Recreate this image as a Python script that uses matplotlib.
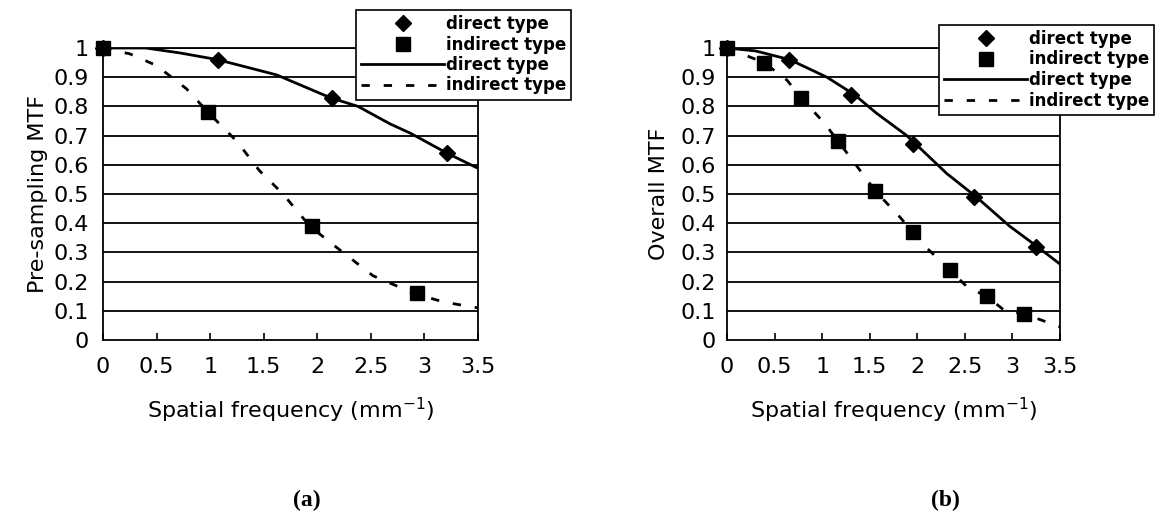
import matplotlib
matplotlib.use('Agg')
import matplotlib.pyplot as plt

# (a) pre-sampling MTF
a_freq_direct = [0, 1.07, 2.14, 3.21]
a_mtf_direct = [1.0, 0.96, 0.83, 0.64]
a_freq_indirect = [0, 0.98, 1.95, 2.93]
a_mtf_indirect = [1.0, 0.78, 0.39, 0.16]
a_fit_direct_x = [0, 0.4, 0.72, 1.07, 1.62, 2.12, 2.38, 2.68, 2.87, 3.21, 3.5]
a_fit_direct_y = [1.0, 1.0, 0.983, 0.96, 0.908, 0.83, 0.8, 0.74, 0.708, 0.64, 0.588]
a_fit_indirect_x = [0, 0.25, 0.5, 0.78, 0.98, 1.25, 1.46, 1.68, 1.93, 2.17, 2.52, 2.9, 3.18, 3.5]
a_fit_indirect_y = [1.0, 0.98, 0.94, 0.86, 0.78, 0.68, 0.58, 0.5, 0.39, 0.32, 0.22, 0.16, 0.13, 0.11]

# (b) overall MTF
b_freq_direct = [0, 0.65, 1.3, 1.95, 2.6, 3.25]
b_mtf_direct = [1.0, 0.96, 0.84, 0.67, 0.49, 0.32]
b_freq_indirect = [0, 0.39, 0.78, 1.17, 1.56, 1.95, 2.34, 2.73, 3.12]
b_mtf_indirect = [1.0, 0.95, 0.83, 0.68, 0.51, 0.37, 0.24, 0.15, 0.09]
b_fit_direct_x = [0, 0.3, 0.66, 1.05, 1.34, 1.57, 1.89, 2.31, 2.62, 2.97, 3.26, 3.5]
b_fit_direct_y = [1.0, 0.99, 0.96, 0.90, 0.84, 0.777, 0.70, 0.57, 0.49, 0.39, 0.32, 0.26]
b_fit_indirect_x = [0, 0.39, 0.63, 0.78, 1.03, 1.17, 1.32, 1.56, 1.82, 1.95, 2.10, 2.34, 2.53, 2.73, 2.92, 3.12, 3.5]
b_fit_indirect_y = [1.0, 0.95, 0.89, 0.83, 0.74, 0.68, 0.615, 0.51, 0.42, 0.37, 0.315, 0.24, 0.18, 0.15, 0.10, 0.09, 0.045]

x_ticks = [0, 0.5, 1, 1.5, 2, 2.5, 3, 3.5]
x_labels = ['0', '0.5', '1', '1.5', '2', '2.5', '3', '3.5']
y_ticks = [0, 0.1, 0.2, 0.3, 0.4, 0.5, 0.6, 0.7, 0.8, 0.9, 1]
y_labels = ['0', '0.1', '0.2', '0.3', '0.4', '0.5', '0.6', '0.7', '0.8', '0.9', '1']

plt.rcParams['font.family'] = ['DejaVu Sans']

W, H = 1172, 517
fig = plt.figure(figsize=(W / 100, H / 100), dpi=100)

panels = [
    dict(rect=[103, 48, 375, 292], ylabel='Pre-sampling MTF', ypad=10, ylpad=4,
         fd=a_freq_direct, md=a_mtf_direct, fi=a_freq_indirect, mi=a_mtf_indirect,
         cdx=a_fit_direct_x, cdy=a_fit_direct_y, cix=a_fit_indirect_x, ciy=a_fit_indirect_y,
         leg=(356, 10), caption='(a)', capx=307),
    dict(rect=[727, 48, 333, 292], ylabel='Overall MTF', ypad=8, ylpad=8,
         fd=b_freq_direct, md=b_mtf_direct, fi=b_freq_indirect, mi=b_mtf_indirect,
         cdx=b_fit_direct_x, cdy=b_fit_direct_y, cix=b_fit_indirect_x, ciy=b_fit_indirect_y,
         leg=(939, 25), caption='(b)', capx=945),
]

for p in panels:
    x0, y0, w, h = p['rect']
    ax = fig.add_axes([x0 / W, 1 - (y0 + h) / H, w / W, h / H])
    ax.set_xlim(0, 3.5)
    ax.set_ylim(0, 1)
    for y in y_ticks[1:]:
        ax.axhline(y, color='black', lw=1.3, zorder=1)
    d1, = ax.plot(p['fd'], p['md'], 'D', color='black', ms=8, zorder=4, clip_on=False)
    s1, = ax.plot(p['fi'], p['mi'], 's', color='black', ms=10, zorder=4, clip_on=False)
    l1, = ax.plot(p['cdx'], p['cdy'], '-', color='black', lw=2, zorder=3)
    l2, = ax.plot(p['cix'], p['ciy'], '--', color='black', lw=2, dashes=(3, 5), zorder=3)
    ax.set_xticks(x_ticks)
    ax.set_xticklabels(x_labels, fontsize=16)
    ax.set_yticks(y_ticks)
    ax.set_yticklabels(y_labels, fontsize=16)
    ax.tick_params(axis='x', direction='in', length=5, width=1.2, pad=12)
    ax.tick_params(axis='y', length=0, pad=p['ypad'])
    for s in ax.spines.values():
        s.set_linewidth(1.3)
    ax.set_xlabel('Spatial frequency (mm$^{-1}$)', fontsize=16, labelpad=14)
    ax.set_ylabel(p['ylabel'], fontsize=16, labelpad=p['ylpad'])
    lx, ly = p['leg']
    leg = ax.legend([d1, s1, l1, l2], ['direct type', 'indirect type', 'direct type', 'indirect type'],
                    loc='upper left', bbox_to_anchor=(lx / W, 1 - ly / H), bbox_transform=fig.transFigure,
                    prop=dict(size=12, weight='bold'), frameon=True, fancybox=False,
                    edgecolor='black', framealpha=1, handlelength=5.0, handletextpad=0.1,
                    labelspacing=0.15, borderpad=0.3, borderaxespad=0)
    leg.get_frame().set_linewidth(1.2)
    fig.text(p['capx'] / W, 1 - 500 / H, p['caption'], ha='center', va='center',
             fontsize=17, fontweight='bold', family='Liberation Serif')

fig.savefig('out.png', dpi=100)
